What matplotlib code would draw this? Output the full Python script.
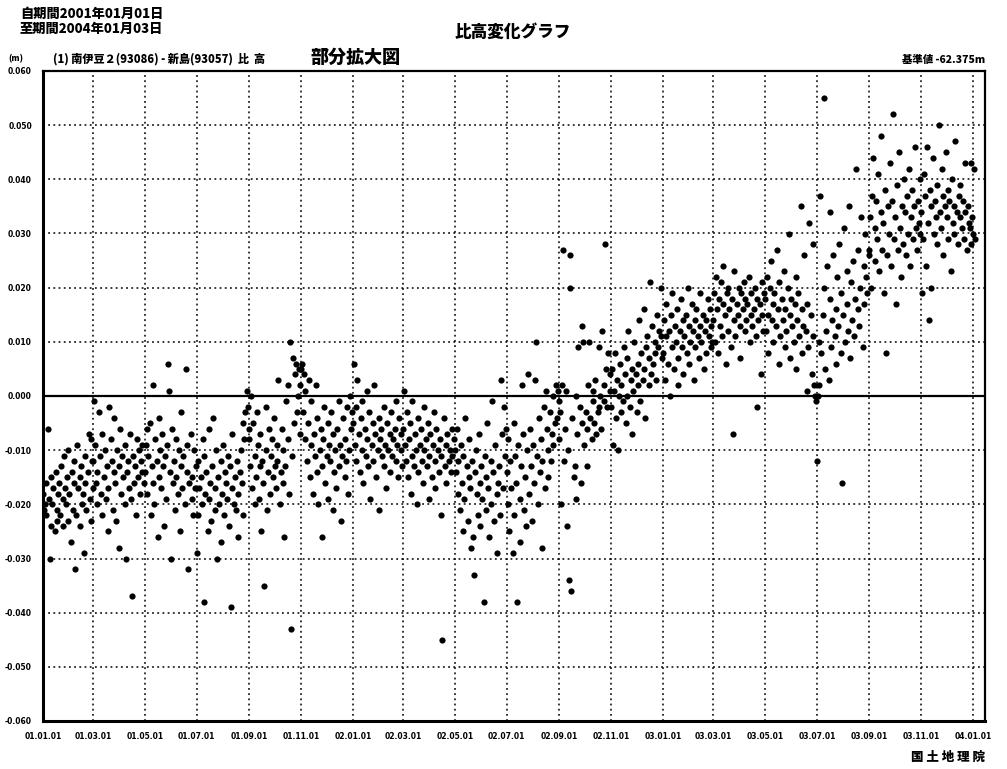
import pandas as pd
import numpy as np
import matplotlib
matplotlib.use("Agg")
import matplotlib.pyplot as plt
import matplotlib.dates as mdates

N = None  # 欠測日

# 2ヶ月ごとの区間の開始日 (日毎の観測)
bin_starts = ["2001-01-01", "2001-03-01", "2001-05-01", "2001-07-01", "2001-09-01",
              "2001-11-01", "2002-01-01", "2002-03-01", "2002-05-01", "2002-07-01",
              "2002-09-01", "2002-11-01", "2003-01-01", "2003-03-01", "2003-05-01",
              "2003-07-01", "2003-09-01", "2003-11-01"]

# 比高 (mm)
v01_01 = [-18, -21, -20, -16, -22, N, -6, -19, -30, -24, -15, -20, -17, N, -25, -14, -21, -23,
          -18, -16, -22, -13, N, -19, -24, -11, -17, -20, -15, -23, -10, -18, N, -27, -14, -21,
          -16, -12, -32, -22, -9, -17, N, -24, -15, -13, -20, -18, -29, -11, -16, -21, N, -14,
          -7, -19, -23, -8, -12, -17]
v01_03 = [-12, -1, -9, -16, -20, -14, N, -3, -11, -18, -22, -7, N, -15, -10, -19, -13, -25, -17,
          -2, N, -8, -12, -21, -14, -4, -16, -23, -10, N, -28, -13, -6, -18, -11, -15, N, -20,
          -9, -30, -14, -12, -17, N, -7, -19, -37, -11, -16, -13, N, -22, -8, -15, -10, -18, -12,
          -14, -9, N, -16]
v01_05 = [-14, -9, -6, -18, -11, N, -5, -22, -13, 2, -16, -20, -8, N, -12, -26, -4, -15, -10,
          -17, -7, -13, N, -24, -11, -19, -9, 6, 1, -14, N, -30, -6, -16, -12, -21, -8, -15, N,
          -18, -10, -25, -13, -3, -17, -11, N, -20, 5, -14, -9, -32, -16, N, -7, -19, -15, -22,
          -10, -17, -13]
v01_07 = [-29, -12, -22, -17, N, -15, -20, -8, -11, -38, -18, -14, N, -25, -6, -19, -16, -23,
          -13, -4, N, -21, -17, -10, -30, -15, -20, N, -12, -27, -18, -9, -22, -14, N, -16, -19,
          -11, -24, -13, -39, -17, -7, N, -20, -15, -21, -12, -18, -26, N, -14, -10, -16, -22,
          -5, -8, -3, N, 1, -2, -6]
v01_09 = [-8, -13, 0, -17, -5, N, -20, -11, -15, -3, -9, -19, -13, -7, -25, -12, -16, -35, N,
          -2, -10, -21, -14, -6, -18, -11, N, -8, -15, -4, -13, -17, -9, -12, 3, N, -20, -14, -6,
          -16, -10, -26, -13, -1, N, -8, 2, -18, 10, -43, -11, 7, -5, N, 4, 6, -3, 0, 5, -7, 2]
v01_11 = [5, 6, -3, 4, -8, 1, N, -12, -5, 3, -15, -9, -1, N, -18, -7, -11, 2, -14, -4, -20, N,
          -10, -6, -13, -26, -8, -2, -16, N, -11, -5, -19, -9, -12, -3, N, -21, -7, -14, -10, -17,
          -6, N, -13, -1, -9, -23, -11, -4, N, -15, -8, -12, -2, -18, -10, 0, N, -6, -3]
v02_01 = [-5, 6, -9, -2, -12, 3, N, -7, -14, -4, -10, -1, -16, N, -6, -11, 1, -8, -13, -3, -19,
          N, -9, -5, -12, 2, -7, -15, N, -10, -4, -21, -8, -6, -11, N, -2, -13, -9, -17, -5, -10,
          N, -7, -14, -3, -11, -8, N, -6, -12, -1, -9, -15, -4, N, -10, -7, -13]
v02_03 = [-6, 1, -9, -12, -3, N, -15, -8, -5, -18, -11, -1, N, -13, -7, -10, -20, -4, -14, N,
          -9, -6, -12, -16, -2, -10, N, -8, -13, -5, -19, -11, -7, N, -15, -9, -3, -12, -17, -6,
          N, -10, -14, -8, -22, -11, -45, N, -4, -13, -9, -16, -7, N, -12, -10, -14, -6, -11, N,
          -8]
v02_05 = [-10, -14, -6, -18, -12, N, -21, -9, -16, -25, -11, -19, -4, N, -13, -23, -15, -8, -17,
          -28, -12, -26, -33, -14, N, -10, -18, -22, -7, -16, -24, -13, -19, N, -38, -11, -15,
          -21, -5, -17, -26, N, -12, -20, -1, -14, -23, -9, N, -18, -29, -16, -13, -22, 3, -7,
          -17, N, -2, -11, -6]
v02_07 = [-14, -20, -8, -25, -12, -17, N, -29, -5, -22, -11, -16, -38, -9, N, -19, -27, -13, 2,
          -7, -21, N, -15, -24, -10, 4, -18, -6, N, -13, -23, -9, -16, 3, 10, -11, N, -20, -4,
          -14, -8, -28, -12, N, -2, -17, 1, -6, -10, -15, N, -3, -12, -7, 0, -9, N, -5, 2, -4, 1,
          -1]
v02_09 = [-8, -3, -20, 2, 27, -12, N, -6, 1, -24, -10, -34, 26, 20, -36, -4, N, -15, -13, 0,
          -19, -7, 9, N, -2, -16, 13, -5, 10, -9, N, -3, -13, -6, 2, 10, -4, N, -8, 1, -1, -5, 3,
          -7, N, -3, 9, -2, 0, -6, 12, N, -1, 2, 28, 5, -2, 8, N, 1, 4]
v02_11 = [-2, 5, -9, 1, 8, -4, N, 3, -10, 0, 6, -3, 2, N, -1, 9, 4, -5, 7, 0, 12, N, -2, 3, 5,
          -7, 1, 10, N, 4, -3, 6, 2, 14, -1, 8, N, 3, 16, 5, -4, 9, 11, N, 2, 7, 21, 4, 13, 6, N,
          10, 8, 3, 15, 9, 12, N, 20, 11, 7]
v03_01 = [8, 14, 3, 11, 17, N, 6, 12, 0, 15, 9, 19, N, 5, 13, 10, 16, 7, 2, N, 12, 18, 9, 14, 4,
          11, N, 15, 8, 20, 13, 6, 10, N, 17, 12, 3, 14, 9, 16, N, 11, 7, 13, 19, 10, N, 15, 5,
          12, 8, 14, N, 18, 11, 16, 9, 13, 10]
v03_03 = [14, 19, 10, 22, 16, N, 8, 18, 13, 21, 11, 17, 24, N, 15, 6, 19, 12, 20, 16, N, 9, 18,
          -7, 14, 23, 11, N, 17, 15, 20, 13, 7, 19, N, 16, 21, 12, 18, 14, 17, N, 22, 10, 15, 19,
          13, N, 16, 20, 11, -2, 18, 14, N, 17, 4, 21, 15, 12, 19]
v03_05 = [18, 12, 22, 15, 8, N, 20, 25, 14, 17, 10, 19, N, 13, 27, 16, 6, 21, 11, N, 18, 14, 23,
          9, 16, 12, N, 20, 30, 15, 7, 18, 13, N, 10, 17, 22, 5, 14, 19, 11, N, 35, 16, 8, 13, 26,
          N, 12, 1, 17, 9, 32, N, 15, 4, 11, 28, 2, 0, -1]
v03_07 = [-12, 0, 2, 10, 37, 8, N, 15, 20, 55, 5, 12, 24, N, 3, 18, 34, 9, 14, 26, N, 11, 6, 16,
          22, 13, 28, N, 8, 19, -16, 15, 31, 10, N, 17, 23, 12, 35, 7, 21, N, 14, 25, 11, 18, 42,
          N, 16, 27, 13, 20, 33, N, 9, 24, 17, 30, 22, 19, N, 26]
v03_09 = [27, 33, 20, 37, 44, N, 25, 31, 36, 29, 41, 23, N, 34, 48, 27, 32, 19, 38, N, 8, 26,
          35, 30, 43, 24, N, 36, 52, 29, 33, 17, 39, N, 27, 45, 31, 22, 35, 28, N, 40, 34, 26, 37,
          30, 42, N, 24, 33, 38, 29, 35, N, 46, 31, 27, 36, 32, 40, 30]
v03_11 = [34, 19, 29, 41, 37, 24, N, 46, 32, 14, 38, 20, 35, N, 44, 30, 36, 33, 39, 28, N, 50,
          34, 31, 42, 37, 26, N, 35, 45, 33, 29, 38, 36, N, 23, 40, 32, 35, 30, 47, N, 34, 28, 37,
          33, 39, N, 31, 36, 29, 43, 34, N, 27, 35, 32, 31, 28, 43, 33, 30, 42, 29]

bins = [v01_01, v01_03, v01_05, v01_07, v01_09, v01_11, v02_01, v02_03, v02_05, v02_07,
        v02_09, v02_11, v03_01, v03_03, v03_05, v03_07, v03_09, v03_11]

tick_dates = pd.date_range("2001-01-01", "2004-01-01", freq="2MS")
y_ticks = np.arange(-0.06, 0.0601, 0.01)

dates = []
vals = []
for start, v in zip(bin_starts, bins):
    t0 = pd.Timestamp(start)
    for k, y in enumerate(v):
        if y is None:
            continue
        dates.append(t0 + pd.Timedelta(days=k))
        vals.append(y / 1000.0)

jp = ["Noto Sans CJK JP", "DejaVu Sans"]

fig = plt.figure(figsize=(10.07, 7.69), dpi=100)
ax = fig.add_axes([43 / 1007, 1 - 721 / 769, 942 / 1007, 650 / 769])

ax.scatter(dates, vals, s=20, color="black", zorder=3, linewidths=0)
ax.axhline(0, color="black", linewidth=1.6, zorder=2)

ax.set_xlim(pd.Timestamp("2001-01-01"), pd.Timestamp("2004-01-15"))
ax.set_ylim(-0.06, 0.06)
ax.set_xticks(tick_dates)
ax.xaxis.set_major_formatter(mdates.DateFormatter("%y.%m.%d"))
ax.set_yticks(y_ticks)
ax.set_yticklabels([f"{t:.3f}" for t in y_ticks])
ax.tick_params(length=0, pad=8)
for lab in ax.get_xticklabels() + ax.get_yticklabels():
    lab.set_fontsize(5.5)
    lab.set_fontweight("bold")

ax.grid(True, color="black", linestyle=(0, (1.2, 2.2)), linewidth=1.1)
ax.set_axisbelow(True)
for side, sp in ax.spines.items():
    sp.set_linewidth(2.2 if side in ("left", "bottom") else 1.6)


def ftext(x, y, s, **kw):
    fig.text(x / 1007, 1 - y / 769, s, family=jp, fontweight="heavy", **kw)


ftext(20, 14, "自期間2001年01月01日", fontsize=9.5, va="center")
ftext(20, 29, "至期間2004年01月03日", fontsize=9.5, va="center")
ftext(513, 32, "比高変化グラフ", fontsize=12, ha="center", va="center")
ftext(8, 58, "(m)", fontsize=6, va="center")
ftext(53, 59, "(1) 南伊豆２(93086) - 新島(93057)  比  高", fontsize=8, va="center")
ftext(310, 57, "部分拡大図", fontsize=13, va="center")
ftext(985, 60, "基準値 -62.375m", fontsize=7.5, ha="right", va="center")
ftext(985, 757, "国 土 地 理 院", fontsize=9, ha="right", va="center")

fig.savefig("out.png", dpi=100)
